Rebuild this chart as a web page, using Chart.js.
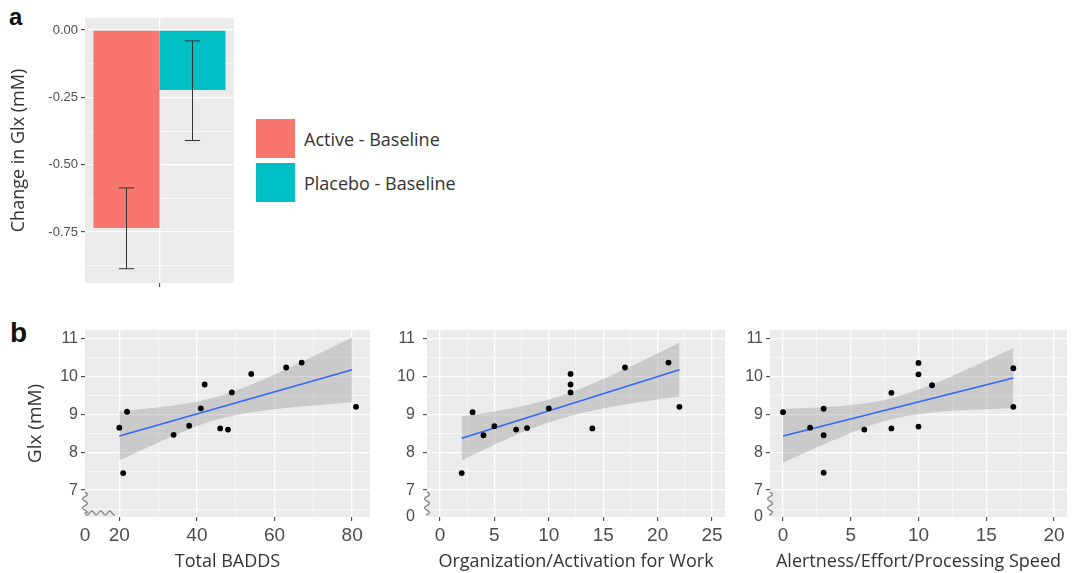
<!DOCTYPE html>
<html>
<head>
<meta charset="utf-8">
<title>Glx change and BADDS correlations</title>
<script src="https://cdn.jsdelivr.net/npm/chart.js@4.4.1/dist/chart.umd.min.js"></script>
<style>
  body { margin: 0; background: #fff; }
  #page { position: relative; width: 1072px; height: 573px; overflow: hidden; }
  canvas { position: absolute; }
  .tag { position: absolute; font-family: 'Liberation Sans', Arial, sans-serif; font-weight: bold; line-height: 1; color: #111; }
  #legendA { position: absolute; left: 256px; top: 119px; font-family: 'Open Sans', sans-serif; font-size: 18px; color: #333; }
  .legend-row { display: flex; align-items: center; height: 39px; margin-bottom: 5px; white-space: nowrap; }
  .swatch { display: inline-block; width: 39px; height: 39px; margin-right: 9px; }
</style>
</head>
<body>
<div id="page">
  <div class="tag" style="left:9px; top:5px; font-size:24px;">a</div>
  <div class="tag" style="left:10px; top:319px; font-size:28px;">b</div>
  <canvas id="barChart" width="250" height="300" style="left:0; top:0;"></canvas>
  <div id="legendA"></div>
  <canvas id="baddsChart" width="375" height="255" style="left:0; top:318px;"></canvas>
  <canvas id="orgChart" width="350" height="255" style="left:380px; top:318px;"></canvas>
  <canvas id="alertChart" width="340" height="255" style="left:732px; top:318px;"></canvas>
</div>
<script>
// ---- panel a: change in Glx ----
const groups = ['Active - Baseline', 'Placebo - Baseline'];
const glxChange = [-0.735, -0.222];
const glxErrLow = [-0.886, -0.41];
const glxErrHigh = [-0.586, -0.04];
const changeTicks = [0, -0.25, -0.5, -0.75];
const changeMinor = [-0.125, -0.375, -0.625, -0.875];

// ---- panel b: Glx vs scores ----
const glxTicks = [7, 8, 9, 10, 11];
const glxMinor = [6.5, 7.5, 8.5, 9.5, 10.5];
const breakLabel = '0';

const baddsScore = [20, 21, 22, 34, 38, 41, 42, 46, 48, 49, 54, 63, 67, 81];
const baddsGlx = [8.65, 7.45, 9.07, 8.46, 8.7, 9.16, 9.79, 8.63, 8.6, 9.58, 10.07, 10.24, 10.37, 9.2];
const baddsFitX = [20, 80];
const baddsFitY = [8.43, 10.18];
const baddsBandX = [20, 30, 38, 45, 55, 67, 80];
const baddsBandHigh = [9.08, 9.18, 9.30, 9.46, 9.83, 10.39, 11.04];
const baddsBandLow = [7.78, 8.26, 8.61, 8.86, 9.07, 9.21, 9.32];
const baddsTicks = [20, 40, 60, 80];
const baddsMinor = [30, 50, 70];

const orgScore = [2, 3, 4, 5, 7, 8, 10, 12, 12, 12, 14, 17, 21, 22];
const orgGlx = [7.45, 9.06, 8.45, 8.69, 8.6, 8.64, 9.16, 10.07, 9.79, 9.58, 8.63, 10.24, 10.37, 9.2];
const orgFitX = [2, 22];
const orgFitY = [8.37, 10.18];
const orgBandX = [2, 5, 8, 11, 14, 18, 22];
const orgBandHigh = [8.95, 9.08, 9.25, 9.48, 9.81, 10.33, 10.89];
const orgBandLow = [7.79, 8.20, 8.58, 8.88, 9.10, 9.31, 9.47];
const orgTicks = [0, 5, 10, 15, 20, 25];
const orgMinor = [2.5, 7.5, 12.5, 17.5, 22.5];

const alertScore = [0, 2, 3, 3, 3, 6, 8, 8, 10, 10, 10, 11, 17, 17];
const alertGlx = [9.06, 8.65, 9.15, 8.45, 7.46, 8.6, 9.57, 8.63, 10.36, 10.06, 8.68, 9.77, 10.22, 9.2];
const alertFitX = [0, 17];
const alertFitY = [8.43, 9.96];
const alertBandX = [0, 3, 6, 8, 11, 14, 17];
const alertBandHigh = [9.14, 9.19, 9.29, 9.43, 9.79, 10.26, 10.75];
const alertBandLow = [7.72, 8.21, 8.65, 8.87, 9.05, 9.12, 9.17];
const alertTicks = [0, 5, 10, 15, 20];
const alertMinor = [2.5, 7.5, 12.5, 17.5];

Chart.defaults.font.family = "'Liberation Sans', Arial, sans-serif";
Chart.defaults.color = '#4d4d4d';

// ticks list with major / minor / break flags
function buildTicks(majors, minors, breakAt) {
    const list = majors.map(v => ({ value: v }));
    minors.forEach(v => list.push({ value: v, minor: true }));
    if (breakAt !== undefined) list.push({ value: breakAt, brk: true });
    return list.sort((a, b) => a.value - b.value);
}

function tickText(format) {
    return function (value, index, ticks) {
        const t = ticks[index];
        if (t.brk) return breakLabel;
        if (t.minor) return '';
        return format(value);
    };
}

const gridColor = ctx => (ctx.tick && ctx.tick.brk) ? 'rgba(0,0,0,0)' : '#ffffff';
const gridWidth = ctx => (ctx.tick && ctx.tick.minor) ? 0.6 : 1.3;
const tickMarkColor = ctx => (ctx.tick && (ctx.tick.minor || ctx.tick.brk)) ? 'rgba(0,0,0,0)' : '#333333';

function ggGrid() {
    return { color: gridColor, lineWidth: gridWidth, tickColor: tickMarkColor, tickLength: 4, tickWidth: 1, offset: false };
}

// fixed axis size, no extra label padding pushed onto the plot area
function fixSize(prop, size) {
    return s => {
        s[prop] = size;
        s.paddingTop = 0; s.paddingBottom = 0;
        s.paddingLeft = 0; s.paddingRight = 0;
    };
}

// grey panel background
const panelBg = {
    id: 'panelBg',
    beforeDraw(chart) {
        const { ctx, chartArea: a } = chart;
        ctx.save();
        ctx.fillStyle = '#ebebeb';
        ctx.fillRect(a.left, a.top, a.right - a.left, a.bottom - a.top);
        ctx.restore();
    }
};

// error bars on top of the bars
const errorBars = {
    id: 'errorBars',
    afterDatasetsDraw(chart) {
        const { ctx } = chart;
        const yScale = chart.scales.y;
        ctx.save();
        ctx.strokeStyle = '#333';
        ctx.lineWidth = 1;
        chart.data.datasets.forEach((ds, i) => {
            const bar = chart.getDatasetMeta(i).data[0];
            const lo = yScale.getPixelForValue(glxErrLow[i]);
            const hi = yScale.getPixelForValue(glxErrHigh[i]);
            const half = bar.width * 0.115;
            ctx.beginPath();
            ctx.moveTo(bar.x, lo); ctx.lineTo(bar.x, hi);
            ctx.moveTo(bar.x - half, lo); ctx.lineTo(bar.x + half, lo);
            ctx.moveTo(bar.x - half, hi); ctx.lineTo(bar.x + half, hi);
            ctx.stroke();
        });
        ctx.restore();
    }
};

// legend as html, built from the chart's own legend items
const htmlLegend = {
    id: 'htmlLegend',
    afterUpdate(chart) {
        const box = document.getElementById('legendA');
        box.innerHTML = '';
        chart.options.plugins.legend.labels.generateLabels(chart).forEach(item => {
            const row = document.createElement('div');
            row.className = 'legend-row';
            const swatch = document.createElement('span');
            swatch.className = 'swatch';
            swatch.style.background = item.fillStyle;
            const text = document.createElement('span');
            text.textContent = item.text;
            row.appendChild(swatch);
            row.appendChild(text);
            box.appendChild(row);
        });
    }
};

// wavy axis-break marks at the bottom left corner
const axisBreak = {
    id: 'axisBreak',
    afterDraw(chart, args, opts) {
        const { ctx, chartArea: a, scales: { x, y } } = chart;
        const top = y.getPixelForValue(glxTicks[0]) + 2;
        const bottom = opts.alongX ? a.bottom - 4 : a.bottom - 1;
        ctx.save();
        ctx.strokeStyle = '#8a8a8a';
        ctx.lineWidth = 1.3;
        ctx.beginPath();
        for (let p = top; p <= bottom; p++) {
            const dx = 2.5 * Math.sin((p - top) * Math.PI / 4.5);
            if (p === top) ctx.moveTo(a.left + dx, p); else ctx.lineTo(a.left + dx, p);
        }
        if (opts.alongX) {
            const end = x.getPixelForValue(opts.alongX) - 4;
            for (let p = a.left; p <= end; p++) {
                const dy = 2 * Math.sin((p - a.left) * Math.PI / 4.5);
                ctx.lineTo(p, bottom + dy);
            }
        }
        ctx.stroke();
        ctx.restore();
    }
};

// ---- panel a chart ----
new Chart(document.getElementById('barChart'), {
    type: 'bar',
    data: {
        labels: [''],
        datasets: groups.map((g, i) => ({
            label: g,
            data: [glxChange[i]],
            backgroundColor: ['#F8766D', '#00BFC4'][i],
            borderWidth: 0,
            barPercentage: 1,
            categoryPercentage: 0.886
        }))
    },
    options: {
        responsive: false,
        animation: false,
        layout: { padding: { left: 8, top: 18, right: 16, bottom: 0 } },
        plugins: {
            tooltip: { enabled: false },
            legend: { display: false }
        },
        scales: {
            x: {
                grid: ggGrid(),
                border: { display: false },
                afterFit: fixSize('height', 17)
            },
            y: {
                min: -0.939,
                max: 0.045,
                grid: ggGrid(),
                border: { display: false },
                afterBuildTicks: s => { s.ticks = buildTicks(changeTicks, changeMinor); },
                ticks: { autoSkip: false, padding: 3, font: { size: 13 }, callback: tickText(v => v.toFixed(2)) },
                title: { display: true, text: 'Change in Glx (mM)', color: '#333', padding: 0,
                         font: { family: "'Open Sans', sans-serif", size: 18 } },
                afterFit: fixSize('width', 77)
            }
        }
    },
    plugins: [panelBg, errorBars, htmlLegend]
});

// ---- panel b charts ----
function toPoints(xs, ys) {
    return xs.map((x, i) => ({ x: x, y: ys[i] }));
}

function glxScatter(id, o) {
    return new Chart(document.getElementById(id), {
        type: 'scatter',
        data: {
            datasets: [
                { data: toPoints(o.x, o.y), backgroundColor: '#000', pointRadius: 2.9, borderWidth: 0 },
                { data: toPoints(o.fitX, o.fitY), showLine: true, borderColor: '#3366FF', borderWidth: 1.6, pointRadius: 0 },
                { data: toPoints(o.bandX, o.bandHigh), showLine: true, borderWidth: 0, borderColor: 'rgba(0,0,0,0)',
                  pointRadius: 0, cubicInterpolationMode: 'monotone', backgroundColor: 'rgba(153,153,153,0.4)', fill: '+1' },
                { data: toPoints(o.bandX, o.bandLow), showLine: true, borderWidth: 0, borderColor: 'rgba(0,0,0,0)',
                  pointRadius: 0, cubicInterpolationMode: 'monotone' }
            ]
        },
        options: {
            responsive: false,
            animation: false,
            layout: { padding: { left: o.padLeft, top: 12, right: 5, bottom: 0 } },
            plugins: {
                legend: { display: false },
                tooltip: { enabled: false },
                axisBreak: { alongX: o.xBreak ? o.xTicks[0] : false }
            },
            scales: {
                x: {
                    type: 'linear',
                    min: o.xMin,
                    max: o.xMax,
                    grid: ggGrid(),
                    border: { display: false },
                    afterBuildTicks: s => { s.ticks = buildTicks(o.xTicks, o.xMinor, o.xBreak ? o.xMin : undefined); },
                    ticks: { autoSkip: false, maxRotation: 0, padding: 3, font: { size: 19 }, callback: tickText(v => String(v)) },
                    title: { display: true, text: o.xTitle, color: '#333', padding: 0,
                             font: { family: "'Open Sans', sans-serif", size: 18 } },
                    afterFit: fixSize('height', 56)
                },
                y: {
                    min: 6.29,
                    max: 11.23,
                    grid: ggGrid(),
                    border: { display: false },
                    afterBuildTicks: s => { s.ticks = buildTicks(glxTicks, glxMinor, o.xBreak ? undefined : 6.29); },
                    ticks: { autoSkip: false, padding: o.yPad, font: { size: 16 }, callback: tickText(v => String(v)) },
                    title: { display: !!o.yTitle, text: o.yTitle || '', color: '#333', padding: 0,
                             font: { family: "'Open Sans', sans-serif", size: 19 } },
                    afterFit: fixSize('width', o.yWidth)
                }
            }
        },
        plugins: [panelBg, axisBreak]
    });
}

glxScatter('baddsChart', {
    x: baddsScore, y: baddsGlx, fitX: baddsFitX, fitY: baddsFitY,
    bandX: baddsBandX, bandHigh: baddsBandHigh, bandLow: baddsBandLow,
    xTicks: baddsTicks, xMinor: baddsMinor, xMin: 11.16, xMax: 84.6, xBreak: true,
    xTitle: 'Total BADDS', yTitle: 'Glx (mM)', padLeft: 24, yWidth: 61, yPad: 3
});

glxScatter('orgChart', {
    x: orgScore, y: orgGlx, fitX: orgFitX, fitY: orgFitY,
    bandX: orgBandX, bandHigh: orgBandHigh, bandLow: orgBandLow,
    xTicks: orgTicks, xMinor: orgMinor, xMin: -1.19, xMax: 26.19, xBreak: false,
    xTitle: 'Organization/Activation for Work', padLeft: 0, yWidth: 47, yPad: 8
});

glxScatter('alertChart', {
    x: alertScore, y: alertGlx, fitX: alertFitX, fitY: alertFitY,
    bandX: alertBandX, bandHigh: alertBandHigh, bandLow: alertBandLow,
    xTicks: alertTicks, xMinor: alertMinor, xMin: -0.96, xMax: 20.96, xBreak: false,
    xTitle: 'Alertness/Effort/Processing Speed', padLeft: 0, yWidth: 38, yPad: 3
});
</script>
</body>
</html>
